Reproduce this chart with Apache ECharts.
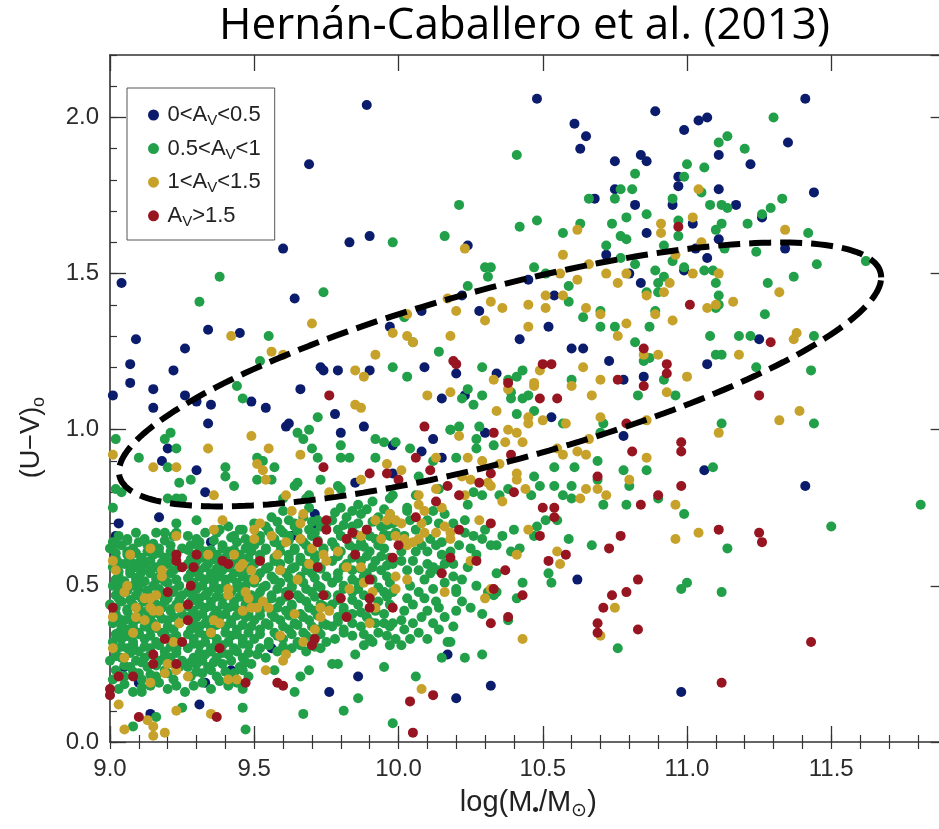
<!DOCTYPE html>
<html>
<head>
<meta charset="utf-8">
<script src="https://cdn.jsdelivr.net/npm/echarts@6/dist/echarts.min.js"></script>
<style>html,body{margin:0;padding:0;background:#fff}#c{width:939px;height:829px}</style>
</head>
<body>
<div id="c"></div>
<script>
// ---------- axis ranges & ticks ----------
const xRange = [9.0, 11.9];
const yRange = [0.0, 2.2];
const majorStep = 0.5;
const minorStep = 0.1;

// ---------- series names ----------
const seriesNames = ['0<Av<0.5', '0.5<Av<1', '1<Av<1.5', 'Av>1.5'];
const legendRich = ['{t|0<A}{s|V}{t|<0.5}', '{t|0.5<A}{s|V}{t|<1}', '{t|1<A}{s|V}{t|<1.5}', '{t|A}{s|V}{t|>1.5}'];
const seriesColors = ['#0b1c6c', '#21a049', '#c7a22b', '#961520'];

// ---------- ellipse annotation (data units) ----------
const ellipseCenter = [10.352, 1.177];
const ellipseAxisU = [1.321, 0.311];
const ellipseAxisV = [0.0, 0.286];

// ---------- 0 < Av < 0.5 ----------
const navyPts = [
[9.89,2.04],[9.69,1.85],[9.60,1.58],[9.83,1.60],[9.90,1.62],[9.04,1.47],[9.64,1.42],[9.34,1.32],[9.45,1.31],[9.09,1.29],[9.26,1.26],[9.07,1.21],[9.22,1.19],[9.07,1.15],[9.15,1.13],[9.01,1.11],[9.26,1.11],[9.30,1.09],[9.35,1.08],[9.15,1.07],[9.34,1.02],[9.49,1.09],[9.54,1.07],[9.66,1.13],[9.73,1.20],[9.74,1.19],[9.79,1.19],[9.90,1.19],[9.78,1.05],[9.61,1.01],[9.62,1.02],[9.80,0.99],[9.88,1.01],
[10.48,2.06],[10.61,1.98],[10.65,1.94],[10.63,1.90],[10.89,2.02],[10.99,1.96],[10.75,1.86],[10.84,1.88],[10.86,1.86],[10.97,1.81],[10.97,1.78],[10.75,1.77],[10.68,1.74],[10.82,1.72],[10.95,1.72],[10.86,1.63],[10.24,1.59],[10.72,1.56],[10.80,1.50],[10.84,1.47],[10.99,1.51],[10.45,1.48],[10.54,1.43],[10.22,1.43],[10.08,1.38],[10.28,1.38],[9.97,1.33],[10.52,1.33],[10.42,1.29],[10.60,1.26],[10.64,1.26],[10.73,1.22],[10.09,1.20],[10.34,1.18],[10.20,1.18],[10.78,1.16],[10.85,1.17],[10.15,1.10],[10.23,1.11],[10.53,1.04],
[11.41,2.06],[11.07,2.00],[11.04,1.99],[11.35,1.92],[11.11,1.88],[11.22,1.85],[11.11,1.77],[11.44,1.76],[11.17,1.72],[11.26,1.68],[11.02,1.66],[11.11,1.61],[11.03,1.58],[11.07,1.55],[11.34,1.58],[11.25,1.29],[11.07,1.21],
[11.06,0.87],[11.41,0.82],[10.98,0.16],
[10.12,0.97],[10.08,0.93],[10.15,0.91],[10.30,0.99],[10.78,0.98],[9.98,0.95],[9.98,0.86],[10.62,0.52],[10.17,0.28],[10.32,0.18],[10.20,0.14],
[9.20,0.94],[9.18,0.90],[9.30,0.87],[9.33,0.80],[9.17,0.72],[9.03,0.70],[9.02,0.66],[9.35,0.64],[9.42,0.23],[9.33,0.19],[9.31,0.12],[9.14,0.09],[9.10,0.19],[9.05,0.24],[9.06,0.34],
[9.85,0.83],[9.71,0.73],[9.71,0.70],[9.63,0.66],[9.86,0.21],[9.76,0.16],[9.56,0.30]
];

// ---------- 0.5 < Av < 1 ----------
const greenPts = [
[9.98,1.60],[9.38,1.49],[9.31,1.41],[9.74,1.44],[9.55,1.30],[9.52,1.22],[9.98,1.20],[9.44,1.14],[9.46,1.10],[9.72,1.04],[9.69,1.00],[9.65,0.99],[9.21,0.99],
[10.41,1.88],[10.21,1.72],[10.16,1.62],[10.42,1.65],[10.48,1.67],[10.57,1.63],[10.63,1.66],[10.66,1.74],[10.74,1.66],[10.79,1.68],[10.86,1.69],[10.82,1.82],[10.81,1.77],[10.77,1.77],[10.75,1.74],[11.00,1.85],[10.99,1.81],[10.95,1.74],[10.97,1.67],[10.97,1.62],[10.72,1.59],[10.77,1.62],[10.79,1.61],[10.92,1.59],[10.77,1.55],[10.82,1.53],[10.95,1.54],[10.99,1.52],[10.89,1.51],[10.92,1.49],[10.90,1.47],[10.30,1.52],[10.32,1.52],[10.31,1.49],[10.47,1.52],[10.51,1.50],[10.24,1.46],[10.59,1.46],[10.59,1.41],[10.64,1.36],[10.70,1.38],[10.70,1.33],[10.75,1.33],[10.86,1.44],[10.90,1.44],[10.89,1.38],[10.87,1.33],[10.82,1.28],[10.85,1.22],[10.02,1.36],[10.05,1.28],[10.14,1.25],[10.03,1.17],[10.29,1.20],[10.41,1.17],[10.43,1.19],[10.38,1.16],[10.39,1.12],[10.39,1.10],[10.24,1.13],[10.22,1.10],[10.29,1.11],[10.26,1.08],[10.43,1.10],[10.45,1.11],[10.47,1.06],[10.41,1.05],[10.60,1.16],[10.71,1.02],[10.83,1.11],[10.92,1.16],[10.96,1.11],[10.87,1.23],[10.57,1.02],[10.18,1.00],[10.21,1.01],[10.28,1.01],
[11.30,2.00],[11.14,1.94],[11.11,1.92],[11.20,1.90],[11.06,1.84],[11.05,1.76],[11.08,1.72],[11.12,1.72],[11.14,1.71],[11.12,1.66],[11.10,1.64],[11.21,1.66],[11.29,1.71],[11.26,1.69],[11.33,1.74],[11.42,1.63],[11.13,1.58],[11.24,1.57],[11.62,1.54],[11.45,1.53],[11.37,1.49],[11.06,1.51],[11.09,1.51],[11.10,1.47],[11.11,1.43],[11.10,1.39],[11.11,1.40],[11.28,1.47],[11.27,1.37],[11.08,1.30],[11.18,1.30],[11.22,1.30],[11.44,1.30],[11.10,1.24],[11.12,1.24],[11.24,1.20],[11.43,1.19],[11.12,1.02],[11.44,1.02],
[11.09,0.88],[11.81,0.76],[10.99,0.73],[11.50,0.69],[11.14,0.62],[11.00,0.51],[10.98,0.49],[11.12,0.48],
[9.99,0.96],[10.04,0.94],[10.18,1.00],[10.27,0.97],[10.27,0.94],[10.33,0.95],[10.20,0.91],[10.07,0.85],[10.12,0.90],[10.14,0.81],[10.03,0.74],[10.06,0.79],[9.98,0.79],[10.24,0.76],[10.29,0.79],[10.26,0.80],[10.35,0.79],[10.38,0.81],[10.46,0.79],[10.47,0.85],[10.49,0.82],[10.54,0.88],[10.54,0.82],[10.57,0.79],[10.61,0.88],[10.60,0.82],[10.60,0.78],[10.51,0.71],[10.55,0.71],[10.48,0.69],[10.47,0.66],[10.59,0.65],[10.67,0.63],[10.69,0.90],[10.69,0.84],[10.71,0.76],[10.78,0.87],[10.80,0.82],[10.79,0.76],[10.86,0.87],[10.90,0.78],[10.70,0.99],[10.76,0.30],[10.52,0.54],[10.53,0.51],[10.43,0.51],[10.41,0.46],[10.34,0.54],[10.34,0.48],[10.33,0.47],[10.31,0.48],[10.29,0.41],[10.38,0.39],[10.40,0.68],[10.39,0.61],[10.42,0.62],[10.34,0.63],[10.32,0.63],[10.29,0.65],[10.25,0.62],[10.27,0.60],[10.23,0.71],[10.23,0.67],[10.21,0.63],[10.19,0.57],[10.19,0.53],[10.20,0.49],[10.20,0.48],[10.20,0.42],[10.14,0.43],[10.12,0.38],[10.14,0.36],[10.17,0.32],[10.18,0.32],[10.10,0.33],[10.15,0.27],[10.23,0.27],[10.29,0.28],[10.06,0.21],[9.98,0.06],[10.12,0.49],[10.09,0.46],[10.07,0.55],[10.10,0.57],[10.11,0.54],[10.14,0.55],[10.16,0.57],[10.18,0.61],[10.13,0.63],[10.03,0.55],[10.01,0.58],[9.98,0.57],[10.05,0.58],[9.99,0.67],[10.02,0.66],[10.01,0.61],[10.03,0.46],[10.05,0.44],[10.02,0.42],[9.98,0.38],[10.01,0.39],[10.02,0.36],[10.05,0.38],[9.99,0.33],[10.01,0.31],[9.97,0.31],[10.03,0.75],[9.98,0.70],[10.10,0.71],[10.12,0.74],[10.10,0.61],
[10.04,0.50],[10.07,0.48],[10.09,0.52],[10.12,0.56],[10.15,0.60],[10.06,0.61],[10.08,0.63],[10.11,0.65],[10.15,0.64],[10.19,0.70],[10.16,0.73],[10.14,0.70],[10.06,0.68],[10.04,0.71],[10.08,0.40],[10.10,0.42],[10.16,0.40],[10.19,0.37],[10.07,0.35],[10.04,0.33],[10.13,0.45],[10.16,0.51],[10.22,0.52],[10.24,0.56],[10.26,0.66],[10.30,0.68],[10.36,0.66],[10.22,0.45],[10.25,0.43],[10.27,0.50],
[9.19,0.97],[9.23,0.94],[9.02,0.97],[9.10,0.91],[9.20,0.88],[9.40,0.88],[9.40,0.85],[9.24,0.83],[9.28,0.84],[9.43,0.82],[9.02,0.81],[9.04,0.80],[9.20,0.78],[9.23,0.78],[9.25,0.78],[9.01,0.75],[9.30,0.71],[9.23,0.70],[9.23,0.67],[9.16,0.67],[9.19,0.67],[9.09,0.67],[9.06,0.65],[9.01,0.64],[9.43,0.66],[9.46,0.68],[9.50,0.70],[9.38,0.68],
[9.08,0.05],[9.47,0.04],[9.46,0.11],[9.25,0.11],[9.11,0.16],[9.16,0.08],
[9.67,0.97],[9.70,0.94],[9.72,0.91],[9.80,0.95],[9.83,0.91],[9.92,0.97],[9.95,0.96],[9.92,0.91],[9.80,0.91],[9.73,0.84],[9.79,0.82],[9.80,0.81],[9.64,0.82],[9.65,0.83],[9.60,0.78],[9.69,0.79],[9.68,0.78],[9.53,0.90],[9.51,0.91],[9.57,0.88],[9.51,0.84],[9.56,0.84],[9.97,0.78],
[9.66,0.21],[9.69,0.23],[9.77,0.25],[9.79,0.25],[9.64,0.16],[9.67,0.09],[9.81,0.10],[9.86,0.14],[9.95,0.24],[9.91,0.32],[9.88,0.31],[9.85,0.28],[9.90,0.33],[9.57,0.23],[9.54,0.27],[9.51,0.28],
[9.03,0.17],[9.08,0.16],[9.14,0.18],[9.20,0.17],[9.26,0.16],
[9.01,0.20],[9.05,0.21],[9.11,0.20],[9.16,0.21],[9.22,0.20],
[9.02,0.23],[9.07,0.24],[9.10,0.22],[9.13,0.24],[9.19,0.23],[9.24,0.24],
[9.00,0.26],[9.04,0.27],[9.09,0.26],[9.12,0.27],[9.17,0.26],[9.21,0.27],[9.25,0.26],
[9.02,0.29],[9.06,0.30],[9.10,0.29],[9.14,0.30],[9.19,0.29],[9.23,0.30],
[9.01,0.32],[9.04,0.33],[9.08,0.32],[9.12,0.33],[9.16,0.32],[9.21,0.33],[9.24,0.32],
[9.03,0.35],[9.06,0.36],[9.10,0.35],[9.14,0.36],[9.18,0.35],[9.22,0.36],
[9.01,0.38],[9.05,0.39],[9.08,0.38],[9.12,0.39],[9.15,0.38],[9.20,0.39],[9.24,0.38],
[9.02,0.41],[9.06,0.42],[9.10,0.41],[9.13,0.42],[9.17,0.41],[9.21,0.42],[9.25,0.41],
[9.00,0.44],[9.04,0.45],[9.08,0.44],[9.12,0.45],[9.16,0.44],[9.19,0.45],[9.23,0.44],
[9.02,0.47],[9.05,0.48],[9.09,0.47],[9.13,0.48],[9.18,0.47],[9.22,0.48],[9.25,0.47],
[9.01,0.50],[9.04,0.51],[9.08,0.50],[9.11,0.51],[9.15,0.50],[9.20,0.51],[9.24,0.50],
[9.03,0.53],[9.07,0.54],[9.10,0.53],[9.14,0.54],[9.17,0.53],[9.21,0.54],
[9.01,0.56],[9.05,0.57],[9.09,0.56],[9.12,0.57],[9.16,0.56],[9.20,0.57],[9.24,0.56],
[9.02,0.59],[9.06,0.60],[9.11,0.59],[9.15,0.60],[9.19,0.59],[9.23,0.60],
[9.00,0.62],[9.04,0.63],[9.08,0.62],[9.13,0.63],[9.17,0.62],[9.21,0.63],[9.25,0.62],
[9.03,0.66],[9.12,0.65],[9.22,0.66],
[9.05,0.185],[9.11,0.175],[9.17,0.19],[9.23,0.18],
[9.03,0.215],[9.08,0.225],[9.14,0.215],[9.20,0.22],
[9.05,0.245],[9.11,0.255],[9.16,0.245],[9.22,0.25],
[9.02,0.275],[9.07,0.285],[9.14,0.28],[9.19,0.275],[9.23,0.285],
[9.04,0.305],[9.08,0.31],[9.12,0.305],[9.17,0.31],[9.21,0.305],
[9.02,0.345],[9.06,0.34],[9.10,0.345],[9.14,0.34],[9.19,0.345],[9.23,0.34],
[9.04,0.37],[9.08,0.365],[9.12,0.37],[9.16,0.365],[9.20,0.37],
[9.03,0.395],[9.07,0.40],[9.10,0.395],[9.14,0.40],[9.18,0.395],[9.22,0.40],
[9.02,0.43],[9.06,0.425],[9.10,0.43],[9.14,0.425],[9.18,0.43],[9.21,0.425],
[9.03,0.46],[9.07,0.455],[9.11,0.46],[9.15,0.455],[9.20,0.46],[9.24,0.455],
[9.03,0.49],[9.06,0.485],[9.10,0.49],[9.13,0.485],[9.17,0.49],[9.22,0.485],
[9.02,0.52],[9.05,0.515],[9.09,0.52],[9.12,0.515],[9.16,0.52],[9.19,0.515],[9.23,0.52],
[9.03,0.545],[9.07,0.55],[9.11,0.545],[9.14,0.55],[9.18,0.545],[9.22,0.55],
[9.03,0.575],[9.07,0.58],[9.10,0.575],[9.14,0.58],[9.18,0.575],[9.21,0.58],
[9.02,0.605],[9.06,0.61],[9.09,0.605],[9.13,0.61],[9.17,0.605],[9.21,0.61],
[9.02,0.635],[9.06,0.645],[9.10,0.64],[9.15,0.635],[9.19,0.645],
[9.29,0.18],[9.35,0.17],[9.41,0.18],[9.46,0.17],
[9.28,0.21],[9.32,0.22],[9.37,0.21],[9.43,0.22],[9.48,0.21],
[9.27,0.24],[9.30,0.25],[9.34,0.24],[9.39,0.25],[9.45,0.24],[9.49,0.25],
[9.29,0.27],[9.33,0.28],[9.37,0.27],[9.41,0.28],[9.46,0.27],
[9.27,0.30],[9.31,0.31],[9.35,0.30],[9.39,0.31],[9.43,0.30],[9.48,0.31],
[9.29,0.33],[9.33,0.34],[9.37,0.33],[9.42,0.34],[9.46,0.33],
[9.28,0.36],[9.31,0.37],[9.35,0.36],[9.40,0.37],[9.44,0.36],[9.49,0.37],
[9.27,0.39],[9.30,0.40],[9.34,0.39],[9.38,0.40],[9.42,0.39],[9.47,0.40],
[9.29,0.42],[9.33,0.43],[9.37,0.42],[9.41,0.43],[9.45,0.42],[9.49,0.43],
[9.28,0.45],[9.31,0.46],[9.35,0.45],[9.39,0.46],[9.43,0.45],[9.47,0.46],
[9.27,0.48],[9.30,0.49],[9.34,0.48],[9.38,0.49],[9.42,0.48],[9.46,0.49],
[9.29,0.51],[9.33,0.52],[9.36,0.51],[9.40,0.52],[9.44,0.51],[9.48,0.52],
[9.28,0.54],[9.31,0.55],[9.35,0.54],[9.39,0.55],[9.43,0.54],[9.47,0.55],
[9.27,0.57],[9.30,0.58],[9.34,0.57],[9.38,0.58],[9.42,0.57],[9.46,0.58],
[9.29,0.60],[9.33,0.61],[9.37,0.60],[9.41,0.61],[9.45,0.60],[9.49,0.61],
[9.28,0.63],[9.31,0.64],[9.39,0.63],[9.44,0.64],[9.48,0.63],
[9.27,0.66],[9.33,0.67],[9.41,0.69],
[9.32,0.19],[9.38,0.195],[9.44,0.19],
[9.30,0.225],[9.35,0.23],[9.40,0.225],[9.46,0.23],
[9.28,0.255],[9.32,0.26],[9.36,0.255],[9.42,0.26],[9.47,0.255],
[9.31,0.285],[9.35,0.29],[9.39,0.285],[9.44,0.29],[9.48,0.285],
[9.29,0.315],[9.33,0.32],[9.37,0.315],[9.41,0.32],[9.46,0.315],
[9.27,0.345],[9.31,0.35],[9.35,0.345],[9.40,0.35],[9.44,0.345],[9.48,0.35],
[9.29,0.375],[9.33,0.38],[9.37,0.375],[9.42,0.38],[9.46,0.375],
[9.28,0.405],[9.32,0.41],[9.36,0.405],[9.40,0.41],[9.44,0.405],[9.48,0.41],
[9.27,0.435],[9.31,0.44],[9.35,0.435],[9.39,0.44],[9.43,0.435],[9.47,0.44],
[9.29,0.465],[9.33,0.47],[9.37,0.465],[9.41,0.47],[9.45,0.465],[9.49,0.47],
[9.28,0.495],[9.32,0.50],[9.36,0.495],[9.40,0.50],[9.44,0.495],[9.47,0.50],
[9.27,0.525],[9.31,0.53],[9.35,0.525],[9.38,0.53],[9.42,0.525],[9.46,0.53],
[9.29,0.555],[9.33,0.56],[9.37,0.555],[9.41,0.56],[9.45,0.555],[9.49,0.56],
[9.28,0.585],[9.32,0.59],[9.36,0.585],[9.40,0.59],[9.44,0.585],[9.48,0.59],
[9.27,0.615],[9.31,0.62],[9.35,0.615],[9.39,0.62],[9.43,0.615],[9.47,0.62],
[9.30,0.65],[9.36,0.645],[9.42,0.655],[9.47,0.65],[9.45,0.68],[9.37,0.67],
[9.52,0.30],[9.58,0.29],[9.63,0.30],[9.68,0.29],[9.73,0.30],
[9.50,0.33],[9.55,0.32],[9.60,0.33],[9.65,0.32],[9.70,0.33],[9.75,0.32],
[9.52,0.36],[9.57,0.35],[9.62,0.36],[9.67,0.35],[9.72,0.36],
[9.50,0.39],[9.54,0.38],[9.59,0.39],[9.64,0.38],[9.69,0.39],[9.74,0.38],
[9.52,0.42],[9.56,0.41],[9.61,0.42],[9.66,0.41],[9.71,0.42],
[9.50,0.45],[9.54,0.44],[9.59,0.45],[9.63,0.44],[9.68,0.45],[9.73,0.44],
[9.52,0.48],[9.56,0.47],[9.61,0.48],[9.65,0.47],[9.70,0.48],[9.75,0.47],
[9.50,0.51],[9.54,0.50],[9.59,0.51],[9.63,0.50],[9.67,0.51],[9.72,0.50],
[9.52,0.54],[9.56,0.53],[9.61,0.54],[9.66,0.53],[9.70,0.54],[9.75,0.53],
[9.50,0.57],[9.55,0.56],[9.59,0.57],[9.64,0.56],[9.68,0.57],[9.73,0.56],
[9.52,0.60],[9.57,0.59],[9.62,0.60],[9.66,0.59],[9.71,0.60],
[9.50,0.63],[9.54,0.62],[9.59,0.63],[9.64,0.62],[9.68,0.63],[9.74,0.62],
[9.52,0.66],[9.57,0.65],[9.62,0.66],[9.66,0.65],[9.70,0.66],
[9.54,0.69],[9.59,0.68],[9.64,0.69],[9.69,0.68],[9.73,0.69],
[9.56,0.72],[9.62,0.71],[9.67,0.72],[9.72,0.71],
[9.60,0.74],[9.69,0.75],
[9.55,0.31],[9.60,0.305],[9.66,0.31],[9.71,0.305],
[9.52,0.345],[9.58,0.34],[9.63,0.345],[9.68,0.34],[9.73,0.345],
[9.55,0.375],[9.60,0.37],[9.65,0.375],[9.70,0.37],[9.75,0.375],
[9.52,0.405],[9.57,0.40],[9.62,0.405],[9.67,0.40],[9.72,0.405],
[9.53,0.435],[9.58,0.43],[9.63,0.435],[9.69,0.43],[9.74,0.435],
[9.51,0.465],[9.56,0.46],[9.61,0.465],[9.66,0.46],[9.71,0.465],
[9.53,0.495],[9.58,0.49],[9.63,0.495],[9.68,0.49],[9.73,0.495],
[9.51,0.525],[9.57,0.52],[9.62,0.525],[9.66,0.52],[9.71,0.525],
[9.54,0.555],[9.59,0.55],[9.63,0.555],[9.68,0.55],[9.73,0.555],
[9.52,0.585],[9.57,0.58],[9.62,0.585],[9.66,0.58],[9.71,0.585],
[9.54,0.615],[9.59,0.61],[9.64,0.615],[9.69,0.61],[9.74,0.615],
[9.52,0.645],[9.57,0.64],[9.62,0.645],[9.67,0.64],[9.72,0.645],
[9.55,0.675],[9.60,0.67],[9.65,0.675],[9.71,0.67],
[9.58,0.705],[9.64,0.70],[9.70,0.705],[9.75,0.70],
[9.78,0.33],[9.84,0.34],[9.93,0.35],
[9.77,0.37],[9.81,0.36],[9.87,0.37],[9.92,0.38],[9.97,0.37],
[9.79,0.40],[9.84,0.41],[9.89,0.40],[9.95,0.41],
[9.77,0.44],[9.81,0.43],[9.86,0.44],[9.93,0.45],[9.97,0.44],
[9.79,0.47],[9.84,0.48],[9.88,0.47],[9.95,0.48],
[9.77,0.51],[9.81,0.50],[9.86,0.51],[9.91,0.52],[9.97,0.51],
[9.79,0.54],[9.84,0.55],[9.89,0.54],[9.94,0.55],
[9.77,0.58],[9.82,0.57],[9.87,0.58],[9.92,0.58],[9.97,0.59],
[9.80,0.61],[9.85,0.62],[9.90,0.61],[9.95,0.62],
[9.77,0.64],[9.82,0.65],[9.87,0.64],[9.92,0.65],[9.97,0.66],
[9.79,0.68],[9.84,0.69],[9.89,0.68],[9.94,0.69],
[9.77,0.71],[9.82,0.72],[9.87,0.73],[9.93,0.72],[9.97,0.73],
[9.80,0.75],[9.86,0.76],[9.91,0.77],
[9.81,0.35],[9.88,0.345],[9.96,0.34],
[9.79,0.385],[9.84,0.38],[9.90,0.385],[9.95,0.38],
[9.81,0.42],[9.87,0.415],[9.92,0.42],
[9.79,0.455],[9.84,0.455],[9.90,0.46],[9.96,0.465],
[9.81,0.49],[9.86,0.49],[9.93,0.495],[9.98,0.48],
[9.79,0.525],[9.84,0.52],[9.88,0.53],[9.96,0.53],
[9.81,0.56],[9.87,0.555],[9.91,0.56],[9.96,0.565],
[9.79,0.595],[9.84,0.59],[9.89,0.595],[9.94,0.595],
[9.78,0.625],[9.83,0.63],[9.88,0.625],[9.93,0.63],
[9.80,0.66],[9.85,0.665],[9.90,0.66],[9.95,0.665],
[9.81,0.695],[9.86,0.70],[9.91,0.705],[9.96,0.695],
[9.78,0.735],[9.84,0.74],[9.89,0.745],[9.95,0.745]
];

// ---------- 1 < Av < 1.5 ----------
const goldPts = [
[9.42,1.30],[9.70,1.34],[9.56,1.25],[9.60,1.24],[9.92,1.24],[9.98,1.31],[9.85,1.19],[9.88,1.17],[9.85,1.08],[9.87,1.07],[9.49,0.98],
[10.23,1.58],[10.62,1.64],[10.91,1.66],[10.91,1.63],[10.57,1.56],[10.66,1.53],[10.72,1.50],[10.76,1.47],[10.79,1.50],[10.96,1.56],[10.94,1.47],[10.86,1.43],[10.92,1.44],[10.56,1.50],[10.62,1.48],[10.51,1.43],[10.57,1.43],[10.32,1.41],[10.36,1.39],[10.45,1.40],[10.51,1.39],[10.65,1.39],[10.17,1.42],[10.20,1.38],[10.03,1.37],[10.03,1.30],[10.05,1.28],[10.30,1.35],[10.45,1.33],[10.18,1.30],[10.70,1.37],[10.79,1.34],[10.89,1.37],[10.95,1.35],[10.76,1.30],[10.85,1.24],[10.90,1.24],[10.64,1.20],[10.70,1.16],[10.60,1.14],[10.47,1.15],[10.47,1.14],[10.49,1.19],[10.33,1.16],[10.38,1.13],[10.18,1.12],[10.10,1.11],[10.67,1.11],[10.93,1.12],[11.00,1.17],[10.34,1.06],[10.45,1.04],[10.45,1.02],[10.50,1.03],[10.70,1.04],[10.58,1.02],[10.38,1.00],[10.86,1.03],
[11.04,1.77],[11.02,1.68],[11.05,1.60],[11.34,1.64],[11.02,1.50],[11.11,1.50],[11.32,1.44],[11.07,1.39],[11.10,1.40],[11.16,1.41],[11.38,1.31],[11.37,1.29],[11.18,1.24],[11.39,1.06],[11.32,1.03],[11.11,0.99],[11.04,0.67],
[10.21,0.98],[10.41,0.99],[10.43,0.96],[10.37,0.96],[10.24,0.91],[10.29,0.90],[10.13,0.91],[10.35,0.89],[10.41,0.86],[10.41,0.84],[10.44,0.81],[10.31,0.83],[10.32,0.82],[10.22,0.85],[10.25,0.84],[10.01,0.87],[10.13,0.81],[10.07,0.79],[10.55,0.94],[10.57,0.92],[10.62,0.93],[10.65,0.92],[10.66,0.97],[10.65,0.81],[10.69,0.81],[10.72,0.79],[10.63,0.78],[10.80,0.84],[10.86,0.91],[10.96,0.76],[10.96,0.65],[10.36,0.77],[10.23,0.79],[10.28,0.71],[10.15,0.75],[10.07,0.76],[10.09,0.74],[9.97,0.73],[9.99,0.71],[10.01,0.70],[10.08,0.70],[10.09,0.67],[10.07,0.65],[10.05,0.64],[10.03,0.63],[10.02,0.65],[10.13,0.67],[10.16,0.69],[10.18,0.67],[10.18,0.65],[10.45,0.68],[10.41,0.60],[10.25,0.58],[10.55,0.61],[10.56,0.57],[9.99,0.53],[9.99,0.49],[10.03,0.52],[10.16,0.48],[10.32,0.49],[10.30,0.46],[10.43,0.33],[10.75,0.43],[10.70,0.34],[10.08,0.17],
[9.01,0.92],[9.15,0.88],[9.23,0.88],[9.34,0.94],[9.36,0.79],[9.36,0.68],[9.23,0.66],[9.50,0.65],[9.39,0.71],
[9.07,0.60],[9.14,0.62],[9.34,0.60],[9.43,0.60],[9.01,0.58],[9.02,0.55],[9.18,0.55],[9.18,0.53],[9.46,0.57],[9.45,0.56],[9.49,0.55],[9.06,0.50],[9.05,0.48],[9.41,0.49],[9.41,0.47],[9.47,0.48],[9.48,0.46],[9.12,0.46],[9.14,0.46],[9.16,0.47],[9.09,0.43],[9.14,0.43],[9.15,0.42],[9.17,0.42],[9.24,0.43],[9.09,0.40],[9.12,0.39],[9.36,0.39],[9.38,0.38],[9.46,0.42],[9.49,0.43],[9.01,0.40],[9.16,0.37],[9.24,0.38],[9.08,0.35],[9.35,0.35],[9.22,0.32],[9.01,0.30],[9.05,0.27],[9.20,0.25],[9.23,0.23],[9.19,0.22],[9.27,0.21],[9.14,0.19],[9.41,0.20],[9.44,0.20],[9.03,0.12],[9.23,0.10],[9.35,0.09],[9.13,0.07],[9.15,0.05],[9.05,0.04],[9.19,0.03],[9.15,0.02],
[9.55,0.94],[9.66,0.92],[9.51,0.89],[9.53,0.87],[9.54,0.84],[9.61,0.79],[9.76,0.80],[9.96,0.89],[9.87,0.84],[9.52,0.70],[9.50,0.68],[9.56,0.66],[9.61,0.64],[9.66,0.65],[9.70,0.62],[9.74,0.60],[9.75,0.58],[9.58,0.60],[9.59,0.55],[9.65,0.52],[9.69,0.57],[9.79,0.61],[9.82,0.56],[9.87,0.56],[9.83,0.49],[9.88,0.51],[9.91,0.48],[9.92,0.43],[9.90,0.38],[9.73,0.43],[9.76,0.42],[9.73,0.40],[9.71,0.36],[9.64,0.41],[9.55,0.43],[9.51,0.43],[9.50,0.52],[9.53,0.45],[9.67,0.32],[9.59,0.34],[9.61,0.28],[9.60,0.26],[9.54,0.23],[9.92,0.71],[9.96,0.71],[9.94,0.65],[9.99,0.66],[9.87,0.66],[9.67,0.73],[9.63,0.74],[9.66,0.70]
];

// ---------- Av > 1.5 ----------
const redPts = [
[9.76,1.11],
[10.97,1.65],[11.01,1.40],[10.85,1.26],[10.19,1.22],[10.20,1.21],[10.50,1.21],[10.53,1.21],[10.38,1.15],[10.49,1.10],[10.55,1.10],[10.76,1.16],[10.85,1.14],[10.93,1.21],[10.93,1.18],[10.09,1.01],[10.33,0.99],[10.79,1.02],
[11.29,1.28],[11.25,1.11],
[10.98,0.96],[10.98,0.93],[10.98,0.82],[11.11,0.68],[11.25,0.67],[11.26,0.64],[11.43,0.32],[11.12,0.19],
[10.06,0.91],[10.11,0.87],[10.00,0.84],[10.17,0.82],[10.21,0.79],[10.28,0.83],[10.32,0.86],[10.40,0.80],[10.39,0.92],[10.13,0.77],[10.06,0.72],[10.50,0.75],[10.54,0.75],[10.54,0.72],[10.32,0.70],[10.21,0.68],[10.49,0.66],[10.00,0.63],[10.18,0.59],[10.27,0.58],[9.98,0.59],[10.15,0.54],[10.37,0.55],[10.52,0.58],[10.58,0.60],[10.33,0.49],[10.43,0.47],[9.98,0.43],[10.38,0.40],[10.32,0.38],[10.69,0.85],[10.81,0.93],[10.84,0.76],[10.90,0.79],[10.77,0.66],[10.73,0.62],[10.83,0.52],[10.79,0.48],[10.74,0.47],[10.71,0.43],[10.69,0.38],[10.69,0.35],[10.83,0.36],[10.04,0.13],[10.12,0.15],[10.05,0.03],
[9.23,0.60],[9.23,0.58],[9.30,0.60],[9.25,0.56],[9.29,0.56],[9.39,0.58],[9.41,0.57],[9.20,0.48],[9.28,0.50],[9.27,0.44],[9.01,0.43],[9.27,0.39],[9.19,0.33],[9.25,0.32],[9.38,0.30],[9.15,0.28],[9.15,0.25],[9.23,0.25],[9.03,0.21],[9.08,0.21],[9.00,0.17],[9.00,0.15],[9.47,0.19],[9.10,0.08],[9.37,0.08],
[9.75,0.71],[9.75,0.68],[9.72,0.64],[9.72,0.56],[9.84,0.67],[9.82,0.65],[9.85,0.60],[9.89,0.68],[9.90,0.52],[9.90,0.46],[9.90,0.43],[9.82,0.40],[9.80,0.46],[9.74,0.47],[9.62,0.47],[9.52,0.58],[9.71,0.33],[9.70,0.31],[9.58,0.19],[9.60,0.18],[9.74,0.88],[9.90,0.86],[9.96,0.86]
];

// ---------- build ----------
function ellipseOutline(n) {
  const out = [];
  for (let i = 0; i <= n; i++) {
    const t = 2 * Math.PI * i / n, c = Math.cos(t), s = Math.sin(t);
    out.push([ellipseCenter[0] + ellipseAxisU[0] * c + ellipseAxisV[0] * s,
              ellipseCenter[1] + ellipseAxisU[1] * c + ellipseAxisV[1] * s]);
  }
  return out;
}

const FONT = 'Liberation Sans';
const axisColor = '#333';
const labelStyle = { fontFamily: FONT, fontSize: 24, color: '#2b2b2b' };

function majorAxis(range, position, showLabels, extra) {
  return Object.assign({
    type: 'value', position: position, min: range[0], max: range[1], interval: majorStep,
    axisLine: { show: true, onZero: false, lineStyle: { color: axisColor, width: 1.6 } },
    axisTick: { show: true, inside: true, length: 16, lineStyle: { color: axisColor, width: 1.3 } },
    axisLabel: Object.assign({ show: showLabels, showMaxLabel: false,
      formatter: v => v.toFixed(1) }, labelStyle),
    splitLine: { show: false }, minorTick: { show: false }
  }, extra || {});
}
function minorAxis(range, position) {
  return {
    type: 'value', position: position, min: range[0], max: range[1], interval: minorStep,
    axisLine: { show: false }, axisLabel: { show: false }, splitLine: { show: false },
    axisTick: { show: true, inside: true, length: 7, lineStyle: { color: axisColor, width: 1.2 } }
  };
}

const legendRichStyle = {
  t: { fontFamily: FONT, fontSize: 22, color: '#222', lineHeight: 22 },
  s: { fontFamily: FONT, fontSize: 15, color: '#222', lineHeight: 15, padding: [12, 0, 0, 0] }
};
const xNameRich = {
  n: { fontFamily: FONT, fontSize: 29, color: '#222', lineHeight: 30 },
  m: { fontFamily: FONT, fontSize: 19, color: '#222', lineHeight: 19, padding: [15, 0, 0, 0] }
};
const yNameRich = {
  n: { fontFamily: FONT, fontSize: 27, color: '#222', lineHeight: 28 },
  m: { fontFamily: FONT, fontSize: 18, color: '#222', lineHeight: 18, padding: [14, 0, 0, 0] }
};

const chart = echarts.init(document.getElementById('c'), null, { renderer: 'canvas' });
const seriesData = [navyPts, greenPts, goldPts, redPts];
const drawOrder = [1, 0, 2, 3];

const series = drawOrder.map(i => ({
  name: seriesNames[i], type: 'scatter', data: seriesData[i],
  xAxisIndex: 0, yAxisIndex: 0, symbol: 'circle', symbolSize: 10,
  itemStyle: { color: seriesColors[i], opacity: 1 }, emphasis: { disabled: true },
  z: 2 + i, animation: false
}));
series.push({
  name: 'ellipse', type: 'line', data: ellipseOutline(240), xAxisIndex: 0, yAxisIndex: 0,
  symbol: 'none', smooth: false, silent: true, z: 10, animation: false,
  lineStyle: { color: '#000', width: 6, type: [22, 9], cap: 'butt' }
});

chart.setOption({
  backgroundColor: '#fff',
  animation: false,
  title: {
    text: 'Hernán-Caballero et al. (2013)', left: 214, top: -1,
    textStyle: { fontFamily: 'Open Sans', fontSize: 44, fontWeight: 'normal', color: '#000' }
  },
  grid: { left: 110, top: 55, width: 836.65, height: 687, containLabel: false, outerBoundsMode: 'none' },
  legend: {
    data: seriesNames, orient: 'vertical', left: 127, top: 88,
    icon: 'circle', itemWidth: 18, itemHeight: 11, itemGap: 6.6,
    padding: [13.5, 14, 10.7, 21], borderColor: '#555', borderWidth: 1, selectedMode: false,
    formatter: name => legendRich[seriesNames.indexOf(name)],
    textStyle: { rich: legendRichStyle, fontFamily: FONT, fontSize: 22, color: '#222' }
  },
  xAxis: [
    majorAxis(xRange, 'bottom', true, {
      name: '{n|log(M}{m|•}{n|/M}{m|⊙}{n|)}', nameLocation: 'middle', nameGap: 42,
      nameTextStyle: { rich: xNameRich, fontFamily: FONT, fontSize: 29, color: '#222' },
      axisLabel: Object.assign({ show: true, showMaxLabel: false, margin: 15, formatter: v => v.toFixed(1) }, labelStyle)
    }),
    minorAxis(xRange, 'bottom'),
    majorAxis(xRange, 'top', false),
    minorAxis(xRange, 'top')
  ],
  yAxis: [
    majorAxis(yRange, 'left', true, {
      name: '{n|(U−V)}{m|o}', nameLocation: 'middle', nameGap: 64, nameRotate: 90,
      nameTextStyle: { rich: yNameRich, fontFamily: FONT, fontSize: 27, color: '#222', padding: [0, 78, 0, 0] },
      axisLabel: Object.assign({ show: true, showMaxLabel: false, margin: 11, formatter: v => v.toFixed(1) }, labelStyle)
    }),
    minorAxis(yRange, 'left'),
    majorAxis(yRange, 'right', false),
    minorAxis(yRange, 'right')
  ],
  series: series
});
</script>
</body>
</html>
